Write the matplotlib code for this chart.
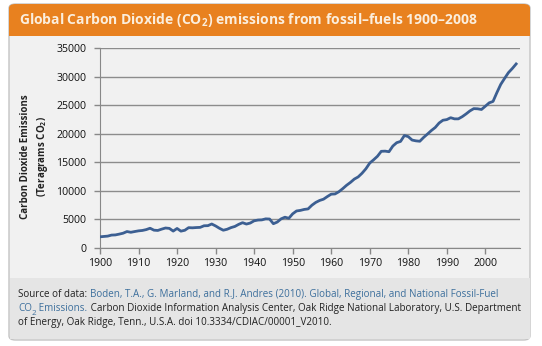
import matplotlib.pyplot as plt
from matplotlib.patches import FancyBboxPatch, Rectangle
import numpy as np

# global CO2 emissions from fossil fuels, teragrams CO2
years = list(range(1900, 2009))
emissions = [
    1960, 2020, 2080, 2260, 2290, 2430, 2590, 2880, 2750, 2880,   # 1900s
    3000, 3070, 3220, 3460, 3120, 3070, 3300, 3500, 3430, 2960,   # 1910s
    3420, 2950, 3100, 3560, 3530, 3580, 3610, 3890, 3910, 4200,   # 1920s
    3860, 3450, 3110, 3280, 3570, 3770, 4140, 4430, 4190, 4370,   # 1930s
    4760, 4890, 4920, 5100, 5070, 4250, 4540, 5100, 5390, 5200,   # 1940s
    5980, 6480, 6580, 6750, 6840, 7490, 7980, 8320, 8540, 9000,   # 1950s
    9420, 9460, 9850, 10390, 10980, 11480, 12060, 12440, 13080, 13860,  # 1960s
    14860, 15430, 16050, 16920, 16950, 16850, 17840, 18430, 18650, 19690,  # 1970s
    19490, 18890, 18750, 18680, 19360, 19950, 20560, 21090, 21870, 22360,  # 1980s
    22470, 22800, 22600, 22600, 22980, 23460, 23990, 24390, 24360, 24240,  # 1990s
    24810, 25400, 25650, 27190, 28630, 29680, 30690, 31410, 32210,  # 2000s
]
x_ticks = list(range(1900, 2001, 10))
y_ticks = list(range(0, 35001, 5000))

W, H = 542, 346
plt.rcParams['font.family'] = ['Open Sans', 'DejaVu Sans']
plt.rcParams['mathtext.fontset'] = 'custom'
plt.rcParams['mathtext.rm'] = 'Open Sans'
plt.rcParams['mathtext.bf'] = 'Open Sans:bold'

fig = plt.figure(figsize=(W / 100, H / 100), dpi=100)
fig.patch.set_facecolor('white')

def fx(px):
    return px / W

def fy(py):
    return 1 - py / H

# card background
card = FancyBboxPatch((fx(9), fy(340)), fx(521), 336 / H,
                      boxstyle='round,pad=0,rounding_size=0.012',
                      transform=fig.transFigure, facecolor='#f1f1f1',
                      edgecolor='#c4c4c4', linewidth=1, zorder=0)
fig.patches.append(card)

# orange header
head = FancyBboxPatch((fx(9), fy(36)), fx(521), 32 / H,
                      boxstyle='round,pad=0,rounding_size=0.012',
                      transform=fig.transFigure, facecolor='#e8811f',
                      edgecolor='none', zorder=1)
fig.patches.append(head)
fig.patches.append(Rectangle((fx(9), fy(36)), fx(521), 12 / H,
                             transform=fig.transFigure, facecolor='#e8811f',
                             edgecolor='none', zorder=1))

# source box
fig.patches.append(Rectangle((fx(9.5), fy(339)), fx(520), 61 / H,
                             transform=fig.transFigure, facecolor='#e5e5e5',
                             edgecolor='none', zorder=1))

fig.text(fx(19), fy(20), r'Global Carbon Dioxide (CO$_\mathbf{2}$) emissions from fossil–fuels 1900–2008',
         color='#fbeedd', fontsize=10.0, fontweight='bold', va='center', ha='left', zorder=3)

# chart
ax = fig.add_axes([fx(100), fy(248), fx(420), 200 / H])
ax.set_zorder(5)
ax.set_facecolor('none')
ax.plot(years, emissions, color='#3c5f92', linewidth=2.0, solid_joinstyle='round', zorder=3)
ax.set_xlim(1900, 2009)
ax.set_ylim(0, 35000)
ax.set_xticks(x_ticks)
ax.set_yticks(y_ticks)
ax.tick_params(axis='both', labelsize=7.6, colors='#888888', labelcolor='#111111',
               length=4, width=1)
ax.tick_params(axis='y', pad=6)
ax.tick_params(axis='x', pad=3)
ax.grid(axis='y', color='#8c8c8c', linewidth=1)
ax.set_axisbelow(True)
for s in ['top', 'right']:
    ax.spines[s].set_visible(False)
for s in ['left', 'bottom']:
    ax.spines[s].set_color('#888888')
ax.set_ylabel('Carbon Dioxide Emissions\n(Teragrams CO$_\\mathbf{2}$)', fontsize=7.0,
              fontweight='bold', color='#222222', linespacing=1.35, va='center')
ax.yaxis.set_label_coords(-0.155, 0.455)

# source text with mixed colours
renderer = fig.canvas.get_renderer()
blue = '#3d6f9c'
black = '#222222'

def write_line(x0, py, pieces, size=7.1):
    x = x0
    for txt, col, sub in pieces:
        y = fy(py + 4) if sub else fy(py)
        t = fig.text(x, y, txt, color=col, fontsize=size * (0.8 if sub else 1),
                     va='baseline', ha='left', zorder=3)
        x += t.get_window_extent(renderer).width / W

write_line(fx(18), 297, [('Source of data: ', black, False),
                         ('Boden, T.A., G. Marland, and R.J. Andres (2010). Global, Regional, and National Fossil-Fuel', blue, False)])
write_line(fx(18), 311, [('CO', blue, False), ('2', blue, True), (' Emissions.', blue, False),
                         (' Carbon Dioxide Information Analysis Center, Oak Ridge National Laboratory, U.S. Department', black, False)])
write_line(fx(18), 325, [('of Energy, Oak Ridge, Tenn., U.S.A. doi 10.3334/CDIAC/00001_V2010.', black, False)])

fig.savefig('out.png', dpi=100)
